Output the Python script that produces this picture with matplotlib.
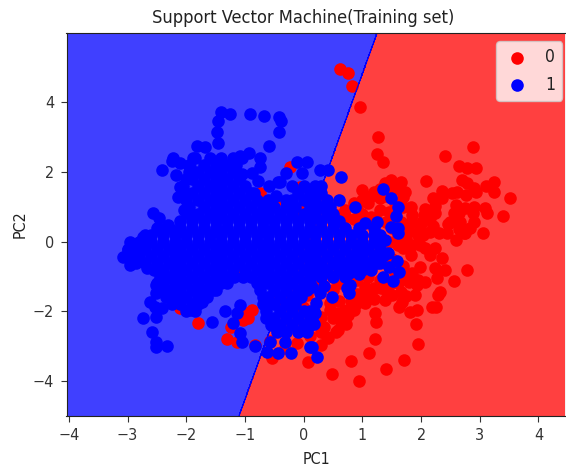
import numpy as np
import matplotlib
matplotlib.use('Agg')
import matplotlib.pyplot as plt
from matplotlib.colors import ListedColormap

boundary_x = [-1.10, 1.25]
boundary_y = [-4.99, 5.98]

x_ticks = [-4, -3, -2, -1, 0, 1, 2, 3, 4]
y_ticks = [-4, -2, 0, 2, 4]

# class 0, (PC1, PC2)
red_upper = [(0.62, 4.94), (0.76, 4.82), (0.83, 4.46), (0.96, 3.85), (1.27, 3.00), (1.25, 2.50), (1.35, 2.29),
             (2.40, 2.45), (2.88, 2.70), (2.65, 2.17), (2.78, 2.10), (2.94, 2.10), (2.09, 1.74), (2.70, 1.77),
             (2.78, 1.68), (3.25, 1.72), (3.10, 1.59), (3.24, 1.43), (2.90, 1.53), (2.93, 1.41), (2.77, 1.34),
             (2.61, 1.41), (2.36, 1.46), (2.35, 1.24), (2.53, 1.38), (3.52, 1.24), (3.40, 0.74), (3.09, 0.95),
             (3.13, 0.81), (3.06, 0.24), (2.89, 0.81), (2.90, 0.57), (2.84, 0.38), (2.74, 0.24), (2.59, 1.05),
             (2.56, 0.81), (2.64, 0.81), (2.50, 0.57), (2.67, 0.57), (2.07, 0.93), (2.24, 1.02), (2.24, 0.81),
             (2.16, 0.67), (1.82, 1.00), (2.59, 0.05), (2.44, 0.24), (2.30, 0.24), (2.16, 0.28), (1.99, 0.43),
             (1.82, 0.57), (2.02, 0.57), (1.48, 1.77), (1.65, 1.72), (1.73, 1.43), (1.70, 1.29), (1.39, 1.67),
             (0.99, 1.48), (1.19, 1.43), (2.04, 0.19), (1.60, 1.50), (2.20, 1.25), (2.45, 0.50), (2.75, 0.95),
             (2.20, 0.45), (2.90, 1.00), (2.65, 0.35), (2.05, 0.75)]
red_lower = [(2.78, -0.81), (2.56, -1.12), (2.40, -0.81), (2.27, -1.05), (2.36, -0.48), (2.24, -0.19), (2.07, -0.19),
             (1.99, -0.72), (2.23, -0.76), (2.07, -1.15), (1.79, -1.17), (1.93, -1.24), (2.32, -1.44), (2.29, -1.53),
             (1.90, -1.53), (2.26, -1.87), (2.19, -1.87), (1.68, -1.72), (1.62, -1.88), (1.93, -1.96), (1.81, -2.03),
             (1.91, -2.37), (1.22, -2.05), (1.23, -2.30), (1.22, -2.79), (1.94, -2.93), (1.12, -3.18), (1.71, -3.39),
             (1.40, -3.64), (0.81, -3.43), (0.48, -3.79), (0.94, -3.99), (0.58, -2.53), (0.41, -2.75), (0.34, -2.44),
             (0.65, -2.25), (0.57, -2.05), (0.68, -1.99), (0.91, -1.77), (1.13, -1.53), (1.39, -1.67), (1.50, -1.53),
             (1.19, -1.34), (1.31, -1.33), (1.82, -0.38), (1.99, -0.10), (2.16, -0.38), (1.70, -0.19), (2.73, 0.24)]
# solid red patch right of the blue cloud
red_middle = [(1.40, 1.30), (1.55, 1.10), (1.30, 1.25), (1.15, 1.30), (1.00, 1.20), (0.85, 1.10), (0.70, 0.90),
              (1.45, 0.85), (1.30, 0.90), (1.15, 0.70), (1.00, 0.80), (0.85, 0.65), (0.70, 0.70), (0.55, 0.75),
              (1.65, 0.55), (1.50, 0.40), (1.80, 0.30), (1.60, 0.20), (1.75, 0.10), (1.45, 0.00), (1.60, -0.10),
              (1.30, -0.30), (1.50, -0.50), (1.70, -0.70), (1.85, -0.90), (1.95, -1.10), (1.05, -1.30), (0.90, -1.50),
              (0.75, -1.30), (0.60, -1.20), (0.50, -1.40), (1.10, -1.00), (1.30, -1.10), (1.60, -1.20), (0.90, -1.10),
              (1.50, 1.55), (1.30, 1.50), (1.10, 1.10), (0.90, 0.95), (1.25, 0.60), (1.40, 0.55), (1.55, 0.75),
              (1.70, 1.00), (1.85, 0.75), (1.95, 0.20), (1.85, -0.10), (1.55, -0.90), (1.75, -1.00), (1.45, -1.25),
              (1.20, -1.65), (1.00, -1.55), (0.80, -1.70), (0.60, -1.70), (0.45, -1.75), (1.40, -1.40), (1.65, -1.45),
              (1.75, -1.55), (0.75, -2.10), (0.50, -2.20), (0.30, -2.15), (0.85, -1.95), (1.05, -1.75)]
# class 0 points that show through or beside the blue cloud
red_left = [(-1.80, -2.32), (-2.11, -1.91), (-1.31, -2.79), (-1.24, -2.44), (-1.14, -2.89), (-0.83, -2.96),
            (-0.97, -2.05), (-0.94, -2.20), (-1.03, -2.25), (-0.88, -1.96), (-1.04, -0.86), (-0.54, -3.34),
            (-0.12, -2.91), (0.08, -3.44), (-0.75, 1.38), (-0.47, 1.17), (-0.06, 1.57), (-0.23, 2.15), (-0.06, 0.91),
            (-0.40, -1.62), (-0.01, -1.88), (0.05, -1.53), (0.20, -0.81), (0.57, -1.10), (0.45, -1.96), (0.40, -2.73),
            (0.62, -2.25), (0.74, -1.96), (-0.57, -2.85), (-0.32, -3.05), (0.30, -2.95), (0.55, -2.60), (0.72, -2.35),
            (0.30, -1.20), (0.50, -1.00), (0.10, -2.70), (0.30, -2.60)]

# class 1, scattered points around the edge of the cloud
blue_upper = [(-1.41, 3.72), (-1.26, 3.66), (-1.46, 3.46), (-1.47, 3.15), (-1.46, 2.83), (-0.91, 3.66), (-0.67, 3.60),
              (-0.42, 3.58), (-0.39, 3.46), (-0.42, 3.15), (-0.59, 2.75), (-1.82, 2.75), (-1.68, 2.72), (-0.93, 2.53),
              (-1.08, 2.45), (-0.74, 2.41), (-0.74, 2.15), (-0.88, 1.96), (-1.05, 1.94), (-0.77, 1.75), (-0.59, 1.60),
              (-0.47, 1.31), (-2.22, 2.39), (-2.25, 2.32), (-2.11, 2.24), (-2.42, 2.04), (-2.18, 1.91), (-1.88, 2.39),
              (-1.94, 2.15), (-2.56, 0.81), (-2.46, 0.68), (-2.14, 1.29), (-2.04, 0.91), (-2.10, 1.57), (-2.31, 0.48),
              (-2.48, 0.38), (-0.43, 1.72), (-0.30, 1.96), (-0.12, 2.29), (0.05, 2.29), (-0.03, 1.96), (0.28, 2.05),
              (0.41, 2.05), (0.63, 1.84), (-0.40, 1.72), (0.61, 1.19), (0.87, 0.98), (1.05, 0.54)]
blue_right = [(1.35, 1.50), (1.48, 1.24), (1.61, 1.00), (1.58, 0.73), (1.25, 0.57), (1.48, 0.43), (1.60, 0.39),
              (1.60, 0.24), (1.39, 0.05), (1.44, -0.34), (1.59, -0.56), (1.45, -0.72), (1.63, -0.88), (1.52, -1.13),
              (1.35, -1.02), (1.15, -0.81), (1.25, -0.62), (0.95, -0.94), (0.78, -0.91), (0.85, -0.72), (0.35, -0.88),
              (0.54, -0.62), (0.17, -0.77), (0.14, -1.29), (0.35, -1.27), (0.28, -1.48), (0.48, -1.58), (0.79, -1.24),
              (0.74, -1.34), (0.78, -1.48), (0.21, -1.77), (0.20, -2.05), (0.17, -2.36), (0.14, -3.01), (0.23, -3.30)]
blue_lower = [(-3.07, -0.45), (-2.99, -0.24), (-2.95, -0.67), (-2.85, -0.24), (-2.74, 0.14), (-2.67, -0.77),
              (-2.51, -1.24), (-2.52, -1.48), (-2.61, -1.74), (-2.42, -1.89), (-2.53, -1.87), (-2.74, -2.18),
              (-2.52, -2.15), (-2.59, -2.58), (-2.52, -2.87), (-2.52, -3.01), (-2.33, -2.99), (-2.45, 0.33),
              (-2.28, -1.58), (-2.19, -1.74), (-1.94, -1.96), (-1.74, -1.72), (-1.71, -1.48), (-1.49, -1.39),
              (-1.34, -1.98), (-1.57, -2.30), (-1.20, -2.34), (-1.08, -2.63), (-1.05, -2.89), (-0.83, -2.98),
              (-0.57, -2.87), (-0.62, -3.17), (-0.44, -3.18), (-0.32, -2.89), (-0.21, -3.18), (0.11, -3.03),
              (-1.08, -1.82), (-1.14, -2.05), (-1.04, -1.01), (-1.19, -1.01), (0.11, -1.29)]

# class 1, the dense middle of the cloud, one x list per y value
core_y = [2.4, 2.2, 2.0, 1.8, 1.6, 1.4, 1.2, 1.0, 0.8, 0.6, 0.4, 0.2, 0.0, -0.2, -0.4, -0.6, -0.8, -1.0,
          -1.2, -1.4, -1.6, -1.8, -2.0, -2.2, -2.4, -2.6]
core_x = [
    [-1.85, -1.60, -1.40, -1.20, -1.05],
    [-1.95, -1.70, -1.50, -1.30, -1.15],
    [-1.95, -1.80, -1.60, -1.40, -1.20],
    [-2.00, -1.90, -1.70, -1.50, -1.30, -1.10],
    [-2.05, -1.80, -1.60, -1.40, -1.20, -1.00, -0.20, 0.00, 0.20, 0.30],
    [-2.05, -1.90, -1.70, -1.50, -1.30, -1.10, -0.90, -0.85, -0.10, 0.10, 0.30],
    [-2.00, -1.80, -1.60, -1.40, -1.20, -1.00, -0.80, -0.60, -0.30, -0.20, 0.00, 0.20, 0.40],
    [-1.95, -1.70, -1.50, -1.30, -1.10, -0.90, -0.70, -0.50, -0.30, -0.15, 0.10, 0.30, 0.45],
    [-1.95, -1.80, -1.60, -1.40, -1.20, -1.00, -0.80, -0.60, -0.40, -0.20, 0.00, 0.20, 0.40, 0.50],
    [-2.10, -1.90, -1.70, -1.50, -1.30, -1.10, -0.90, -0.70, -0.50, -0.30, -0.10, 0.10, 0.30, 0.50, 0.60],
    [-2.50, -2.30, -2.10, -1.90, -1.70, -1.50, -1.30, -1.10, -0.90, -0.70, -0.50, -0.30, -0.10, 0.10, 0.30, 0.50,
     0.70, 0.95, 1.20],
    [-2.70, -2.60, -2.40, -2.20, -2.00, -1.80, -1.60, -1.40, -1.20, -1.00, -0.80, -0.60, -0.40, -0.20, 0.00, 0.20,
     0.40, 0.60, 0.80, 1.00, 1.20, 1.30],
    [-2.95, -2.80, -2.60, -2.40, -2.20, -2.00, -1.80, -1.60, -1.40, -1.20, -1.00, -0.80, -0.60, -0.40, -0.20, 0.00,
     0.20, 0.40, 0.60, 0.80, 1.00, 1.20, 1.30],
    [-3.00, -2.90, -2.70, -2.50, -2.30, -2.10, -1.90, -1.70, -1.50, -1.30, -1.10, -0.90, -0.70, -0.50, -0.30, -0.10,
     0.10, 0.30, 0.50, 0.70, 0.90, 1.10, 1.30],
    [-3.00, -2.80, -2.60, -2.40, -2.20, -2.00, -1.80, -1.60, -1.40, -1.20, -1.00, -0.80, -0.60, -0.40, -0.20, 0.00,
     0.20, 0.40, 0.60, 0.80, 1.00, 1.20, 1.35],
    [-2.85, -2.70, -2.50, -2.30, -2.10, -1.90, -1.70, -1.50, -1.30, -1.10, -0.90, -0.70, -0.50, -0.30, -0.10, 0.10,
     0.30, 0.50, 0.70, 0.90, 1.10, 1.30],
    [-2.55, -2.40, -2.20, -2.00, -1.80, -1.60, -1.40, -1.20, -1.00, -0.80, -0.60, -0.40, -0.20, 0.00, 0.20, 0.40,
     0.60, 0.80, 1.00],
    [-2.45, -2.30, -2.10, -1.90, -1.70, -1.50, -1.30, -0.90, -0.70, -0.50, -0.30, -0.10, 0.10, 0.30, 0.50, 0.70],
    [-2.50, -2.40, -2.20, -2.00, -1.80, -1.60, -1.40, -1.30, -0.80, -0.60, -0.40, -0.20, 0.00, 0.10],
    [-2.40, -2.30, -2.10, -1.90, -1.70, -1.55, -0.75, -0.50, -0.30, -0.10, 0.05],
    [-2.35, -2.20, -2.00, -1.80, -1.65, -0.70, -0.60, -0.40, -0.20, -0.05],
    [-2.25, -2.10, -1.90, -1.80, -0.70, -0.50, -0.30, -0.15],
    [-2.00, -1.85, -0.65, -0.40, -0.20, 0.00, 0.10],
    [-0.65, -0.50, -0.30, -0.10, 0.10, 0.15],
    [-0.55, -0.40, -0.20, 0.00, 0.10],
    [-0.45, -0.30, -0.10, 0.05],
]

red_pts = np.array(red_upper + red_lower + red_middle + red_left)
blue_pts = np.array(blue_upper + blue_right + blue_lower)
for y_val, xs in zip(core_y, core_x):
    blue_pts = np.vstack([blue_pts, [(x, y_val) for x in xs]])

plt.rcParams['font.stretch'] = 'condensed'

fig = plt.figure(figsize=(5.66, 4.69), dpi=100)
ax = fig.add_axes([66.5 / 566, (469 - 415.7) / 469, 499 / 566, (415.7 - 33) / 469])

# background from a grid of predictions, as the classifier plot does it
X1, X2 = np.meshgrid(np.arange(-4.04, 4.46, 0.01), np.arange(-4.99, 5.98, 0.01))
dx = boundary_x[1] - boundary_x[0]
dy = boundary_y[1] - boundary_y[0]
Z = ((X2 - boundary_y[0]) * dx - (X1 - boundary_x[0]) * dy > 0).astype(int)
ax.contourf(X1, X2, Z, alpha=0.75, cmap=ListedColormap(['red', 'blue']))
ax.plot(boundary_x, boundary_y, color='blue', lw=0.9)

ax.scatter(red_pts[:, 0], red_pts[:, 1], c='red', s=82, linewidths=0, label='0')
ax.scatter(blue_pts[:, 0], blue_pts[:, 1], c='blue', s=82, linewidths=0, label='1')

ax.set_xlim(-4.04, 4.46)
ax.set_ylim(-4.99, 5.98)
ax.set_xticks(x_ticks)
ax.set_yticks(y_ticks)
ax.tick_params(labelsize=11.5, length=4, color='#333333', labelcolor='#333333', pad=5)
for spine in ax.spines.values():
    spine.set_color('#222222')

ax.set_title('Support Vector Machine(Training set)', fontsize=13.1, x=0.474, pad=7, color='#222222')
ax.set_xlabel('PC1', fontsize=11.5, labelpad=6, color='#222222')
ax.set_ylabel('PC2', fontsize=11.5, labelpad=4, color='#222222')
ax.legend(loc='upper right', bbox_to_anchor=((562 - 66.5) / 499, (415.7 - 41.5) / 382.7), borderaxespad=0,
          prop={'size': 12.5, 'stretch': 'condensed'}, labelspacing=0.54, handlelength=1.6, handletextpad=0.8,
          borderpad=0.4, labelcolor='#222222')

fig.savefig('out.png', dpi=100)
